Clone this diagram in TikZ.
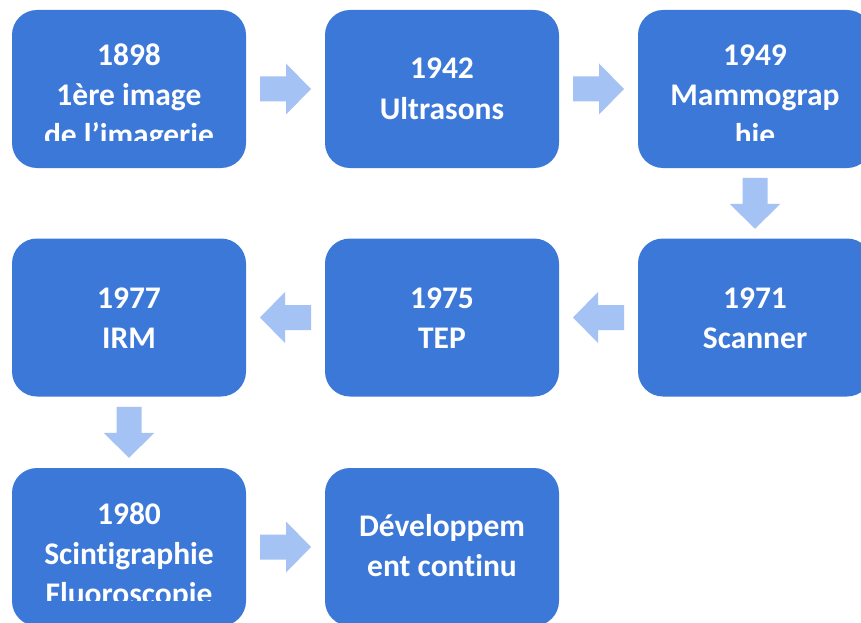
\documentclass[tikz,border=0pt]{standalone}
\usepackage{fontspec}
\setmainfont{Carlito}[Ligatures=NoCommon]
\usetikzlibrary{calc}
\definecolor{boxblue}{HTML}{3C78D8}
\definecolor{arrowblue}{HTML}{A4C2F4}
\newcommand\stacklines[1]{\vtop{\halign{\hfil##\hfil\cr#1\crcr}}}
\tikzset{
  stepbox/.style={rectangle, rounded corners=25pt, fill=boxblue, minimum width=234pt, minimum height=158pt, inner sep=0pt},
  steptext/.style={anchor=base, inner sep=0pt, text=white, font=\fontsize{31.5}{40}\selectfont\bfseries},
  blockarrow/.pic={\fill[arrowblue] (-25.5,-12.5) -- (0.5,-12.5) -- (0.5,-25.5) -- (25.5,0) -- (0.5,25.5) -- (0.5,12.5) -- (-25.5,12.5) -- cycle;}
}
\begin{document}
\begin{tikzpicture}[x=1pt,y=-1pt]
\clip (0,0) rectangle (861,623);
\fill[white] (0,0) rectangle (861,623);
% boxes
\node[stepbox] (b1) at (129,89) {};
\node[stepbox] (b2) at (442,89) {};
\node[stepbox] (b3) at (755,89) {};
\node[stepbox] (b4) at (755,317.5) {};
\node[stepbox] (b5) at (442,317.5) {};
\node[stepbox] (b6) at (129,317.5) {};
\node[stepbox] (b7) at (129,547) {};
\node[stepbox] (b8) at (442,547) {};
% texts
\begin{scope}
  \clip ($(b1.west)+(0,-51)$) rectangle ($(b1.east)+(0,51)$);
  \node[steptext] (t1) at ($(b1.center)+(0,-23)$) {\stacklines{1898\cr 1ère image\cr de l’imagerie}};
\end{scope}
\node[steptext] (t2) at ($(b2.center)+(0,-10)$) {\stacklines{1942\cr Ultrasons}};
\begin{scope}
  \clip ($(b3.west)+(0,-51)$) rectangle ($(b3.east)+(0,51)$);
  \node[steptext] (t3) at ($(b3.center)+(0,-23)$) {\stacklines{1949\cr Mammograp\cr hie}};
\end{scope}
\node[steptext] (t4) at ($(b4.center)+(0,-9)$) {\stacklines{1971\cr Scanner}};
\node[steptext] (t5) at ($(b5.center)+(0,-9)$) {\stacklines{1975\cr TEP}};
\node[steptext] (t6) at ($(b6.center)+(0,-9)$) {\stacklines{1977\cr IRM}};
\begin{scope}
  \clip ($(b7.west)+(0,-53)$) rectangle ($(b7.east)+(0,53)$);
  \node[steptext] (t7) at ($(b7.center)+(0,-23)$) {\stacklines{1980\cr Scintigraphie\cr Fluoroscopie}};
\end{scope}
\node[steptext] (t8) at ($(b8.center)+(0,-11)$) {\stacklines{Développem\cr ent continu}};
% arrows
\pic at ($(b1.east)!0.5!(b2.west)$) {blockarrow};
\pic at ($(b2.east)!0.5!(b3.west)$) {blockarrow};
\pic[rotate=-90] at ($(b3.south)!0.5!(b4.north)$) {blockarrow};
\pic[rotate=180] at ($(b4.west)!0.5!(b5.east)$) {blockarrow};
\pic[rotate=180] at ($(b5.west)!0.5!(b6.east)$) {blockarrow};
\pic[rotate=-90] at ($(b6.south)!0.5!(b7.north)$) {blockarrow};
\pic at ($(b7.east)!0.5!(b8.west)$) {blockarrow};
\end{tikzpicture}
\end{document}
